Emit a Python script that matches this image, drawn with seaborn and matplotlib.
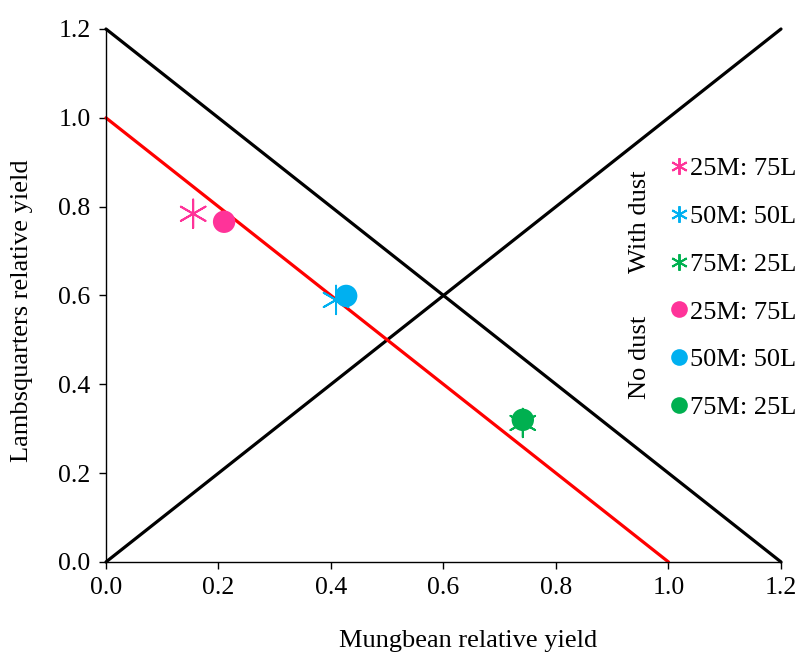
import pandas as pd
import matplotlib
matplotlib.use('Agg')
import matplotlib.pyplot as plt
import seaborn as sns
from matplotlib.lines import Line2D

# relative yields
treatments = ['25M: 75L', '50M: 50L', '75M: 25L']
dust_mung = [0.155, 0.409, 0.741]
dust_lamb = [0.784, 0.590, 0.313]
nodust_mung = [0.210, 0.427, 0.741]
nodust_lamb = [0.766, 0.599, 0.320]
colors = ['#FF3399', '#00B0F0', '#00B050']

# reference lines
line_x = [0.0, 1.2]
replacement_y = [1.2, 0.0]
diag_y = [0.0, 1.2]
expected_x = [0.0, 1.0]
expected_y = [1.0, 0.0]

sns.set_theme(style='white')
plt.rcParams['font.family'] = ['Liberation Serif', 'DejaVu Serif']
plt.rcParams['font.size'] = 18.5
plt.rcParams['text.color'] = 'black'
plt.rcParams['axes.labelcolor'] = 'black'
plt.rcParams['xtick.color'] = 'black'
plt.rcParams['ytick.color'] = 'black'

df = pd.DataFrame({
    'mung': dust_mung + nodust_mung,
    'lamb': dust_lamb + nodust_lamb,
    'treat': treatments * 2,
    'dust': ['With dust'] * 3 + ['No dust'] * 3,
})

fig = plt.figure(figsize=(7.98, 6.53), dpi=100)
ax = fig.add_axes([0.1328, 0.1394, 0.8459, 0.8162])

sns.lineplot(x=line_x, y=replacement_y, color='black', lw=2.3, ax=ax)
sns.lineplot(x=line_x, y=diag_y, color='black', lw=2.3, ax=ax)
sns.lineplot(x=expected_x, y=expected_y, color='#FF0000', lw=2.3, ax=ax)

star = (6, 2, 0)
wd = df[df['dust'] == 'With dust']
nd = df[df['dust'] == 'No dust']
sns.scatterplot(data=wd, x='mung', y='lamb', hue='treat', palette=colors,
                marker=star, s=420, linewidth=1.4, legend=False, ax=ax, zorder=3)
sns.scatterplot(data=nd, x='mung', y='lamb', hue='treat', palette=colors,
                marker='o', s=260, linewidth=0, legend=False, ax=ax, zorder=3)

ax.set_xlim(0, 1.2)
ax.set_ylim(0, 1.2)
ax.set_xticks([0, 0.2, 0.4, 0.6, 0.8, 1.0, 1.2])
ax.set_yticks([0, 0.2, 0.4, 0.6, 0.8, 1.0, 1.2])
ax.set_xticklabels([f'{v:.1f}' for v in ax.get_xticks()])
ax.set_yticklabels([f'{v:.1f}' for v in ax.get_yticks()])
ax.set_xlabel('Mungbean relative yield', fontsize=19, labelpad=22)
ax.set_ylabel('Lambsquarters relative yield', fontsize=19, labelpad=18)
ax.xaxis.label.set_x(0.536)
ax.yaxis.label.set_y(0.471)
sns.despine(ax=ax)
for s in ['left', 'bottom']:
    ax.spines[s].set_color('black')
    ax.spines[s].set_linewidth(1.0)
ax.tick_params(axis='both', direction='out', length=5, width=1.0, color='black',
               labelcolor='black', labelsize=18.5, bottom=True, left=True, pad=6)
for ln in ax.lines:
    ln.set_clip_on(False)

# legend
handles = []
for c, t in zip(colors, treatments):
    handles.append(Line2D([], [], ls='', marker=star, color=c, markersize=12,
                          markeredgewidth=1.4, label=t))
for c, t in zip(colors, treatments):
    handles.append(Line2D([], [], ls='', marker='o', color=c, markersize=12,
                          markeredgewidth=0, label=t))
leg = ax.legend(handles=handles, loc='upper left', bbox_to_anchor=(0.838, 0.76),
                frameon=False, handlelength=0.55, handletextpad=0.15,
                labelspacing=0.92, fontsize=19, borderaxespad=0, borderpad=0)
for t in leg.get_texts():
    t.set_color('black')
ax.text(0.791, 0.638, 'With dust', transform=ax.transAxes, rotation=90,
        ha='center', va='center', fontsize=19, color='black')
ax.text(0.791, 0.383, 'No dust', transform=ax.transAxes, rotation=90,
        ha='center', va='center', fontsize=19, color='black')

fig.savefig('out.png', dpi=100)
